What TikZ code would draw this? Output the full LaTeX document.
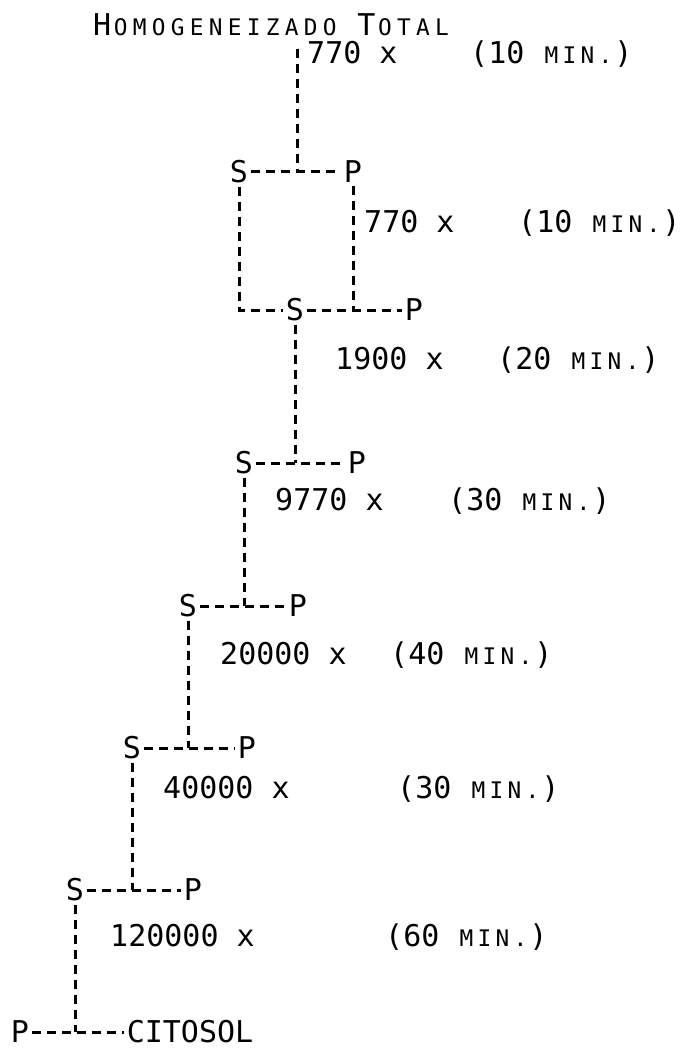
\documentclass[tikz,border=0pt]{standalone}
\usepackage{fontspec}
\newfontfamily\mono{DejaVu Sans Mono}
\newfontfamily\smallmono[Scale=0.76]{DejaVu Sans Mono}
\newlength\sccell
\setlength\sccell{18pt}
\newcommand\scletter[1]{\ifx#1\relax\else\makebox[\sccell][c]{\smallmono #1}\expandafter\scletter\fi}
\newcommand\mysc[1]{\scletter#1\relax}
\newcommand\tsc[1]{{\setlength\sccell{19pt}\scletter#1\relax}}
\tikzset{
  txt/.style={inner sep=0pt, font=\mono\fontsize{30}{34}\selectfont},
  lt/.style={txt, inner sep=3pt},
  dl/.style={line width=3pt, dash pattern=on 9pt off 6pt}
}
\begin{document}
\begin{tikzpicture}[x=1pt,y=-1pt]
\useasboundingbox (0,0) rectangle (690,1051);
% title
\node[txt,anchor=base west] (title) at (93,36) {H\tsc{OMOGENEIZADO} T\tsc{OTAL}};
\node[txt,anchor=base west] (l1a) at (307,64) {770 x};
\node[txt,anchor=base west] (l1b) at (470,64) {(10 \mysc{MIN.})};
% row 1
\node[lt] (S1) at (239,172) {S};
\node[lt] (P1) at (353,172) {P};
\coordinate (j1) at (297,172);
\node[txt,anchor=base west] (l2a) at (364,232) {770 x};
\node[txt,anchor=base west] (l2b) at (518,232) {(10 \mysc{MIN.})};
% row 2
\node[lt] (S2) at (295,310) {S};
\node[lt] (P2) at (414,310) {P};
\coordinate (cL) at (237,310);
\coordinate (cR) at (352,310);
\node[txt,anchor=base west] (l3a) at (335,369) {1900 x};
\node[txt,anchor=base west] (l3b) at (497,369) {(20 \mysc{MIN.})};
% row 3
\node[lt] (S3) at (244,463) {S};
\node[lt] (P3) at (357,463) {P};
\node[txt,anchor=base west] (l4a) at (275,510) {9770 x};
\node[txt,anchor=base west] (l4b) at (448,510) {(30 \mysc{MIN.})};
% row 4
\node[lt] (S4) at (188,606) {S};
\node[lt] (P4) at (298,606) {P};
\node[txt,anchor=base west] (l5a) at (220,664) {20000 x};
\node[txt,anchor=base west] (l5b) at (390,664) {(40 \mysc{MIN.})};
% row 5
\node[lt] (S5) at (132,748) {S};
\node[lt] (P5) at (247,748) {P};
\node[txt,anchor=base west] (l6a) at (163,798) {40000 x};
\node[txt,anchor=base west] (l6b) at (397,798) {(30 \mysc{MIN.})};
% row 6
\node[lt] (S6) at (75,890) {S};
\node[lt] (P6) at (193,890) {P};
\node[txt,anchor=base west] (l7a) at (110,946) {120000 x};
\node[txt,anchor=base west] (l7b) at (385,946) {(60 \mysc{MIN.})};
% row 7
\node[lt] (P7) at (20,1032) {P};
\node[lt] (cyt) at (190,1032) {CITOSOL};
% connectors
\draw[dl] ([yshift=-12pt]title.south -| j1) -- (j1);
\draw[dl] (S1) -- (P1);
\draw[dl] (S1.south) -- (S1.south |- cL) -- (S2);
\draw[dl] (P1.south) -- (P1.south |- cR);
\draw[dl] (S2) -- (P2);
\draw[dl] (S2.south) -- (S2.south |- S3);
\draw[dl] (S3) -- (P3);
\draw[dl] (S3.south) -- (S3.south |- S4);
\draw[dl] (S4) -- (P4);
\draw[dl] (S4.south) -- (S4.south |- S5);
\draw[dl] (S5) -- (P5);
\draw[dl] (S5.south) -- (S5.south |- S6);
\draw[dl] (S6) -- (P6);
\draw[dl] (S6.south) -- (S6.south |- P7);
\draw[dl] (P7) -- (cyt);
\end{tikzpicture}
\end{document}
